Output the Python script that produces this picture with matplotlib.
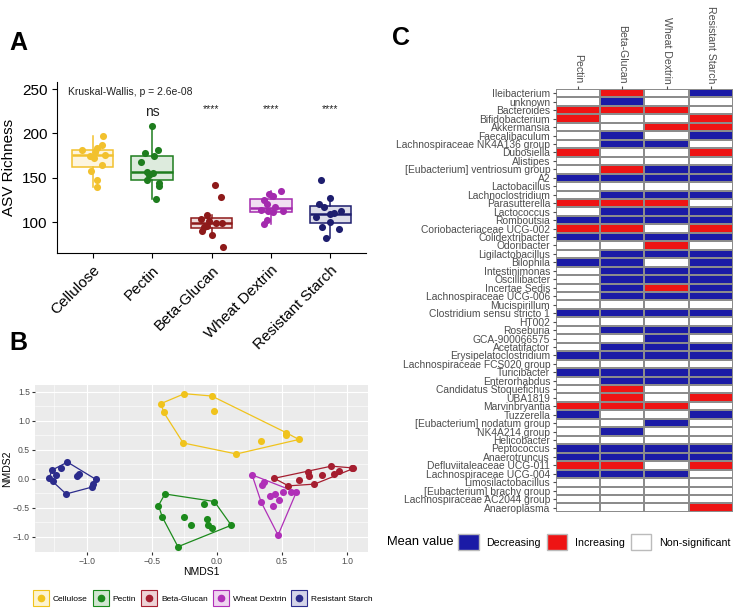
import numpy as np
import matplotlib
matplotlib.use("Agg")
import matplotlib.pyplot as plt
from matplotlib.colors import ListedColormap
from matplotlib.patches import Patch
from matplotlib.lines import Line2D

plt.rcParams['font.family'] = ['Liberation Sans', 'DejaVu Sans']

"""data: """
diets = ["Cellulose", "Pectin", "Beta-Glucan", "Wheat Dextrin", "Resistant Starch"]
diet_colors = ["#F2C12E", "#1E7D1E", "#8E1A1A", "#A42AAE", "#1E1E6E"]
nmds_colors = ["#F0C31C", "#1C8A1C", "#A51E30", "#B030B8", "#2C2C8C"]

# ASV richness per mouse and the jitter offsets seen in the picture
richness = [
    [197, 187, 183, 181, 179, 176, 175, 172, 164, 158, 148, 140],
    [208, 181, 178, 174, 168, 157, 155, 153, 148, 144, 141, 126],
    [142, 128, 108, 103, 101, 99, 99.5, 96, 94, 90, 85, 72],
    [135, 132, 130, 125, 120, 117, 114, 112, 112, 111, 102, 98],
    [147, 127, 120, 117, 112, 110.5, 108.6, 106, 100, 95, 92, 82],
]
jitter = [
    [0.18, 0.15, 0.08, -0.18, 0.04, 0.20, -0.05, 0.03, 0.15, -0.03, 0.08, 0.07],
    [0.00, 0.10, -0.12, 0.03, -0.19, -0.08, 0.02, -0.05, -0.09, 0.12, 0.12, 0.07],
    [0.06, 0.16, -0.07, -0.18, -0.04, 0.08, 0.18, -0.07, -0.12, -0.16, 0.01, 0.19],
    [0.17, -0.03, 0.03, -0.12, -0.06, 0.06, -0.16, -0.05, 0.21, 0.03, -0.07, -0.12],
    [-0.15, -0.01, -0.19, -0.11, 0.17, 0.06, 0.00, -0.25, -0.01, -0.14, 0.15, -0.08],
]
signif = ["", "ns", "****", "****", "****"]

# NMDS scores (panel B)
nmds1 = [
    [-0.25, -0.04, -0.43, -0.41, -0.02, 0.53, 0.53, 0.63, 0.34, -0.26, 0.15],
    [-0.40, -0.45, -0.02, -0.10, -0.42, -0.25, -0.20, -0.08, -0.07, -0.04, 0.11, -0.30],
    [0.44, 0.55, 0.63, 0.70, 0.71, 0.75, 0.81, 0.88, 0.90, 0.94, 1.04, 1.05],
    [0.27, 0.36, 0.35, 0.41, 0.45, 0.51, 0.57, 0.61, 0.34, 0.48, 0.43, 0.47],
    [-1.15, -1.20, -1.27, -1.24, -1.29, -1.26, -1.08, -1.06, -0.93, -0.95, -0.96, -1.16],
]
nmds2 = [
    [1.47, 1.43, 1.30, 1.15, 1.17, 0.80, 0.75, 0.68, 0.65, 0.62, 0.43],
    [-0.26, -0.46, -0.39, -0.44, -0.66, -0.66, -0.80, -0.70, -0.80, -0.84, -0.80, -1.17],
    [0.01, -0.12, -0.02, 0.12, 0.05, -0.09, 0.06, 0.22, 0.09, 0.14, 0.19, 0.18],
    [0.07, -0.06, -0.10, -0.30, -0.26, -0.23, -0.23, -0.23, -0.40, -0.37, -0.47, -0.97],
    [0.29, 0.19, 0.15, 0.06, 0.01, -0.03, 0.05, 0.09, -0.01, -0.08, -0.14, -0.26],
]

# panel C: D = decreasing, I = increasing, N = non-significant
genera = [
    "Ileibacterium", "unknown", "Bacteroides", "Bifidobacterium", "Akkermansia",
    "Faecalibaculum", "Lachnospiraceae NK4A136 group", "Dubosiella", "Alistipes",
    "[Eubacterium] ventriosum group", "A2", "Lactobacillus", "Lachnoclostridium",
    "Parasutterella", "Lactococcus", "Romboutsia", "Coriobacteriaceae UCG-002",
    "Colidextribacter", "Odoribacter", "Ligilactobacillus", "Bilophila",
    "Intestinimonas", "Oscillibacter", "Incertae Sedis", "Lachnospiraceae UCG-006",
    "Mucispirillum", "Clostridium sensu stricto 1", "HT002", "Roseburia",
    "GCA-900066575", "Acetatifactor", "Erysipelatoclostridium",
    "Lachnospiraceae FCS020 group", "Turicibacter", "Enterorhabdus",
    "Candidatus Stoquefichus", "UBA1819", "Marvinbryantia", "Tuzzerella",
    "[Eubacterium] nodatum group", "NK4A214 group", "Helicobacter", "Peptococcus",
    "Anaerotruncus", "Defluviitaleaceae UCG-011", "Lachnospiraceae UCG-004",
    "Limosilactobacillus", "[Eubacterium] brachy group",
    "Lachnospiraceae AC2044 group", "Anaeroplasma",
]
heat_cols = ["Pectin", "Beta-Glucan", "Wheat Dextrin", "Resistant Starch"]
pectin = list("NNIINNNINN" "DNNINDIDNN" "DNNNNNDNNN" "NDNDNNNIDN" "NNDDIDNNNN")
beta_glucan = list("IDINNDDNNI" "DNDIDDIDND" "DDDDDNDNDN" "DDNDDIIINN" "DNDDIDNNNN")
wheat_dextrin = list("NNININDNND" "DNDIDDNDID" "NDDIDNDNDD" "DDNDDNNIND" "NNDDNDNNNN")
resistant_starch = list("DNNIIDNIND" "DNDNDDIDND" "DDDDDNDNDN" "DDNDDNINDN" "NNDDINNNNI")

"""figure: """
fig = plt.figure(figsize=(7.43, 6.16), dpi=100)

# ---- A: richness boxplot
ax_a = fig.add_axes([0.0767, 0.589, 0.416, 0.278])
for i, vals in enumerate(richness):
    col = diet_colors[i]
    bp = ax_a.boxplot([vals], positions=[i], widths=0.7, showfliers=False,
                      patch_artist=True, whis=1.5)
    bp['boxes'][0].set(facecolor=matplotlib.colors.to_rgba(col, 0.15), edgecolor=col, linewidth=1.1)
    for part in ['whiskers', 'caps', 'medians']:
        for ln in bp[part]:
            ln.set(color=col, linewidth=1.1)
    for ln in bp['medians']:
        ln.set(linewidth=1.8)
    for ln in bp['caps']:
        ln.set(visible=False)
    ax_a.scatter(np.array(jitter[i]) + i, vals, s=26, color=col, zorder=3, linewidths=0)
    if signif[i]:
        ax_a.text(i, 224 if signif[i] == "ns" else 227, signif[i], ha='center', va='center',
                  fontsize=10 if signif[i] == "ns" else 7.5, color='#222222')
ax_a.text(0.035, 0.97, "Kruskal-Wallis, p = 2.6e-08", transform=ax_a.transAxes,
          fontsize=7.5, va='top', color='#222222')
ax_a.set_xlim(-0.6, 4.6)
ax_a.set_ylim(65, 258)
ax_a.set_yticks([100, 150, 200, 250])
ax_a.set_xticks(range(len(diets)))
ax_a.set_xticklabels(diets, rotation=45, ha='right', rotation_mode='anchor', fontsize=11)
ax_a.tick_params(axis='y', labelsize=11)
ax_a.set_ylabel("ASV Richness", fontsize=11)
ax_a.spines['top'].set_visible(False)
ax_a.spines['right'].set_visible(False)


# ---- B: NMDS
def hull(xs, ys):
    pts = sorted(set(zip(xs, ys)))
    def cross(o, a, b):
        return (a[0] - o[0]) * (b[1] - o[1]) - (a[1] - o[1]) * (b[0] - o[0])
    lower, upper = [], []
    for p in pts:
        while len(lower) >= 2 and cross(lower[-2], lower[-1], p) <= 0:
            lower.pop()
        lower.append(p)
    for p in reversed(pts):
        while len(upper) >= 2 and cross(upper[-2], upper[-1], p) <= 0:
            upper.pop()
        upper.append(p)
    h = lower[:-1] + upper
    return [p[0] for p in h], [p[1] for p in h]


ax_b = fig.add_axes([0.047, 0.104, 0.448, 0.271])
ax_b.set_facecolor('#EBEBEB')
for i in range(len(diets)):
    hx, hy = hull(nmds1[i], nmds2[i])
    ax_b.plot(hx, hy, color=nmds_colors[i], linewidth=0.9, zorder=2)
    ax_b.scatter(nmds1[i], nmds2[i], s=26, color=nmds_colors[i], zorder=3, linewidths=0)
ax_b.set_xlim(-1.40, 1.16)
ax_b.set_ylim(-1.26, 1.62)
ax_b.set_xticks([-1.0, -0.5, 0.0, 0.5, 1.0])
ax_b.set_yticks([-1.0, -0.5, 0.0, 0.5, 1.0, 1.5])
ax_b.set_xticks([-1.25, -0.75, -0.25, 0.25, 0.75], minor=True)
ax_b.set_yticks([-0.75, -0.25, 0.25, 0.75, 1.25], minor=True)
ax_b.grid(which='major', color='white', linewidth=0.8)
ax_b.grid(which='minor', color='white', linewidth=0.4)
ax_b.set_axisbelow(True)
for s in ax_b.spines.values():
    s.set_visible(False)
ax_b.tick_params(which='major', labelsize=6.2, labelcolor='#4D4D4D', color='#333333',
                 length=2, pad=1.5)
ax_b.tick_params(which='minor', length=0)
ax_b.set_xlabel("NMDS1", fontsize=7.5, labelpad=1)
ax_b.set_ylabel("NMDS2", fontsize=7.5, labelpad=1)

leg_handles = [(Line2D([], [], marker='s', markersize=11, linestyle='none',
                       markerfacecolor=matplotlib.colors.to_rgba(c, 0.2), markeredgecolor=c,
                       markeredgewidth=0.8),
                Line2D([], [], marker='o', markersize=4.5, linestyle='none', color=c))
               for c in nmds_colors]
fig.legend(leg_handles, diets, loc='center', bbox_to_anchor=(0.275, 0.027), ncol=5,
           frameon=False, fontsize=6.0, handlelength=1.3, columnspacing=0.9, handletextpad=0.8)

# ---- C: heatmap
codes = {"D": 0, "I": 1, "N": 2}
mat = np.array([[codes[v] for v in col] for col in
                [pectin, beta_glucan, wheat_dextrin, resistant_starch]]).T
cmap = ListedColormap(["#1B1BA6", "#EE1414", "#FFFFFF"])
ax_c = fig.add_axes([0.748, 0.169, 0.2385, 0.6865])
ax_c.pcolormesh(mat, cmap=cmap, vmin=-0.5, vmax=2.5, edgecolors='#8C8C8C', linewidth=0.3)
ax_c.set_xlim(0, len(heat_cols))
ax_c.set_ylim(len(genera), 0)
for s in ax_c.spines.values():
    s.set_visible(False)
ax_c.set_yticks(np.arange(len(genera)) + 0.5)
ax_c.set_yticklabels(genera, fontsize=7.4, color='#4D4D4D')
ax_c.xaxis.tick_top()
ax_c.set_xticks(np.arange(len(heat_cols)) + 0.5)
ax_c.set_xticklabels(heat_cols, rotation=270, fontsize=7.6, color='#4D4D4D', va='bottom')
ax_c.tick_params(length=2.5, color='#4D4D4D', pad=1.5)

fig.text(0.521, 0.12, "Mean value", fontsize=9.3, va='center')
fig.legend([Patch(facecolor="#1B1BA6", edgecolor='#BBBBBB'),
            Patch(facecolor="#EE1414", edgecolor='#BBBBBB'),
            Patch(facecolor="#FFFFFF", edgecolor='#BBBBBB')],
           ["Decreasing", "Increasing", "Non-significant"], loc='center left',
           bbox_to_anchor=(0.614, 0.12), ncol=3, frameon=False, fontsize=7.7,
           handlelength=1.9, handleheight=1.9, columnspacing=0.6, handletextpad=0.7,
           borderpad=0.2, borderaxespad=0.0)

# panel letters
fig.text(0.013, 0.93, "A", fontsize=18, fontweight='bold', va='center')
fig.text(0.013, 0.443, "B", fontsize=18, fontweight='bold', va='center')
fig.text(0.527, 0.938, "C", fontsize=18, fontweight='bold', va='center')

fig.savefig("out.png", dpi=100)
